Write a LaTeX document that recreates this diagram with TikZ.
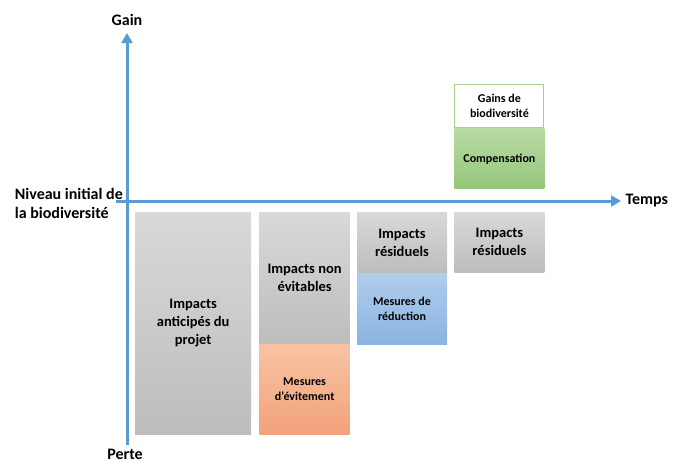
\documentclass[tikz,border=0pt]{standalone}
\usepackage{fontspec}
\setmainfont{Carlito}
\usetikzlibrary{arrows.meta,positioning}
\definecolor{axe}{HTML}{5B9BD5}
\definecolor{vert}{HTML}{A9D18E}
\definecolor{vertH}{HTML}{B7DBA2}
\definecolor{vertB}{HTML}{97C57B}
\definecolor{orangeH}{HTML}{F7C3A3}
\definecolor{orangeB}{HTML}{F3A27B}
\definecolor{bleuH}{HTML}{B0CDEC}
\definecolor{bleuB}{HTML}{8AB3E2}
\tikzstyle{bloc} = [rectangle, inner sep=0pt, text centered, align=center,
    font=\bfseries\fontsize{14.5}{18}\selectfont]
\tikzstyle{petit} = [font=\bfseries\fontsize{12}{15}\selectfont]
\tikzstyle{gris} = [bloc, top color=black!15, bottom color=black!26]
\tikzstyle{label} = [font=\bfseries\fontsize{16}{19}\selectfont, align=left]
\tikzstyle{axis} = [line width=3pt, axe, -{Triangle[length=10pt,width=11pt]}]

\begin{document}
\begin{tikzpicture}[x=1pt, y=-1pt]
  \useasboundingbox (0,0) rectangle (674,464);

  % axes
  \coordinate (origine) at (127,201);
  \coordinate (gauche) at (116,201);
  \coordinate (haut) at (127,33);
  \coordinate (bas) at (127,445);
  \coordinate (droite) at (621,201);
  \node [label] (gain) at (127,20) {Gain};
  \node [label] (perte) at (125,454) {Perte};
  \node [label, right=1pt of droite] (temps) {Temps};
  \node [label, anchor=east, inner sep=1pt] (niveau) at (124,203) {Niveau initial de\\la biodiversité};

  % boites
  \node [gris, minimum width=116pt, minimum height=222pt, anchor=north west] (anticipes) at (135,212) {Impacts\\anticipés du\\projet};
  \node [gris, minimum width=90pt, minimum height=132pt, right=8pt of anticipes.north east, anchor=north west] (nonevit) {Impacts non\\évitables};
  \node [bloc, petit, top color=orangeH, bottom color=orangeB,
    minimum width=90pt, minimum height=90pt, below=0pt of nonevit] (evit) {Mesures\\d'évitement};
  \node [gris, minimum width=90pt, minimum height=61pt, right=7pt of nonevit.north east, anchor=north west] (residA) {Impacts\\résiduels};
  \node [bloc, petit, top color=bleuH, bottom color=bleuB,
    minimum width=90pt, minimum height=71pt, below=0pt of residA] (reduc) {Mesures de\\réduction};
  \node [gris, minimum width=90pt, minimum height=60pt, right=7pt of residA.north east, anchor=north west] (residB) {Impacts\\résiduels};
  \node [bloc, petit, top color=vertH, bottom color=vertB,
    minimum width=90pt, minimum height=60pt, above=23pt of residB] (compens) {Compensation};
  \node [bloc, petit, draw=vert, line width=1pt, fill=white,
    minimum width=89pt, minimum height=43pt, above=0.5pt of compens] (gains) {Gains de\\biodiversité};

  \draw [axis] (bas) -- (haut);
  \draw [axis] (gauche) -- (droite);
\end{tikzpicture}
\end{document}
